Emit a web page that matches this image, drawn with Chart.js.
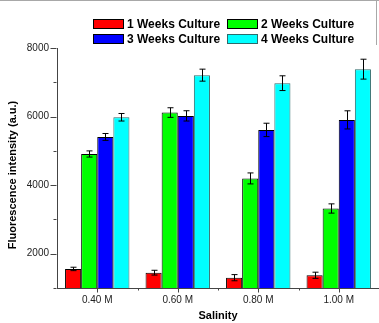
<!DOCTYPE html>
<html>
<head>
<meta charset="utf-8">
<script src="https://cdn.jsdelivr.net/npm/chart.js@4/dist/chart.umd.min.js"></script>
<style>
  html, body { margin: 0; padding: 0; background: #fff; }
  #wrap { width: 379px; height: 323px; position: relative; }
</style>
</head>
<body>
<div id="wrap"><canvas id="c" width="379" height="323"></canvas></div>
<script>
// Salinity levels on the x axis
const categories = ['0.40 M', '0.60 M', '0.80 M', '1.00 M'];

// Mean fluorescence per culture week, with standard deviation
const week1 = [1556, 1447, 1301, 1371];
const week1Err = [50, 70, 90, 90];
const week2 = [4909, 6117, 4196, 3319];
const week2Err = [90, 140, 160, 135];
const week3 = [5406, 6020, 5611, 5903];
const week3Err = [100, 150, 195, 265];
const week4 = [5980, 7208, 6974, 7383];
const week4Err = [110, 175, 215, 290];

const seriesLabels = ['1 Weeks Culture', '2 Weeks Culture', '3 Weeks Culture', '4 Weeks Culture'];
const yMajorTicks = [2000, 4000, 6000, 8000];
const yMinorTicks = [1000, 3000, 5000, 7000];
const yMin = 1000;
const yMax = 8000;

const fills = ['#ff0000', '#00ff00', '#0000ff', '#00ffff'];
const edges = ['#000000', '#000000', '#000000', '#2e6b6b'];
const values = [week1, week2, week3, week4];
const errors = [week1Err, week2Err, week3Err, week4Err];

const FONT = '"Liberation Sans", Arial, sans-serif';
const AXIS = '#444444';

const datasets = values.map((v, i) => ({
  label: seriesLabels[i],
  data: v,
  errors: errors[i],
  backgroundColor: fills[i],
  borderColor: edges[i],
  borderWidth: 1,
  borderSkipped: false,
  categoryPercentage: 0.8,
  barPercentage: 1.0
}));

// Error bars, axis ticks, titles, legend and frame
const decorations = {
  id: 'decorations',
  afterDatasetsDraw(chart) {
    const ctx = chart.ctx;
    const y = chart.scales.y;
    ctx.save();
    ctx.strokeStyle = '#000';
    ctx.lineWidth = 1;
    chart.data.datasets.forEach((ds, di) => {
      const meta = chart.getDatasetMeta(di);
      meta.data.forEach((bar, i) => {
        const v = ds.data[i], e = ds.errors[i];
        const x = Math.round(bar.x) + 0.5;
        const yt = y.getPixelForValue(v + e);
        const yb = y.getPixelForValue(v - e);
        ctx.beginPath();
        ctx.moveTo(x, yt); ctx.lineTo(x, yb);
        ctx.moveTo(x - 3, yt); ctx.lineTo(x + 3, yt);
        ctx.moveTo(x - 3, yb); ctx.lineTo(x + 3, yb);
        ctx.stroke();
      });
    });
    ctx.restore();
  },
  afterDraw(chart) {
    const ctx = chart.ctx;
    const area = chart.chartArea;
    const y = chart.scales.y;
    const x = chart.scales.x;
    ctx.save();
    ctx.strokeStyle = AXIS;
    ctx.lineWidth = 1;

    // y ticks, pointing outward
    const ax = Math.round(area.left) - 0.5;
    yMajorTicks.forEach(t => {
      const py = Math.round(y.getPixelForValue(t)) + 0.5;
      ctx.beginPath(); ctx.moveTo(ax - 6, py); ctx.lineTo(ax, py); ctx.stroke();
    });
    yMinorTicks.forEach(t => {
      const py = Math.round(y.getPixelForValue(t)) + 0.5;
      ctx.beginPath(); ctx.moveTo(ax - 3, py); ctx.lineTo(ax, py); ctx.stroke();
    });

    // x ticks: major at category centres, minor at boundaries
    const by = Math.round(area.bottom) + 0.5;
    for (let i = 0; i < categories.length; i++) {
      const px = Math.round(x.getPixelForTick(i)) + 0.5;
      ctx.beginPath(); ctx.moveTo(px, by); ctx.lineTo(px, by + 4); ctx.stroke();
      if (i < categories.length - 1) {
        const mx = Math.round((x.getPixelForTick(i) + x.getPixelForTick(i + 1)) / 2) + 0.5;
        ctx.beginPath(); ctx.moveTo(mx, by); ctx.lineTo(mx, by + 2); ctx.stroke();
      }
    }

    // axis titles
    ctx.fillStyle = '#000';
    ctx.font = 'bold 11px ' + FONT;
    ctx.textAlign = 'center';
    ctx.textBaseline = 'middle';
    ctx.fillText('Salinity', (area.left + area.right) / 2, 316);
    ctx.save();
    ctx.translate(13, 175);
    ctx.rotate(-Math.PI / 2);
    ctx.fillText('Fluorescence intensity (a.u.)', 0, 0);
    ctx.restore();

    // legend, two rows of two
    const cols = [93, 227];
    const rows = [19, 34];
    ctx.font = 'bold 12px ' + FONT;
    ctx.textAlign = 'left';
    chart.data.datasets.forEach((ds, i) => {
      const lx = cols[i % 2], ly = rows[Math.floor(i / 2)];
      ctx.fillStyle = ds.backgroundColor;
      ctx.fillRect(lx, ly, 31, 10);
      ctx.strokeStyle = ds.borderColor;
      ctx.strokeRect(lx + 0.5, ly + 0.5, 30, 9);
      ctx.fillStyle = '#000';
      ctx.fillText(ds.label, lx + 34, ly + 5.5);
    });

    // outer frame edge
    ctx.strokeStyle = '#a8a8a8';
    ctx.beginPath();
    ctx.moveTo(0, 0.5); ctx.lineTo(379, 0.5);
    ctx.moveTo(376.5, 0); ctx.lineTo(376.5, 45);
    ctx.stroke();
    ctx.restore();
  }
};

new Chart(document.getElementById('c'), {
  type: 'bar',
  data: { labels: categories, datasets },
  options: {
    responsive: false,
    animation: false,
    layout: { padding: { top: 48, left: 0, right: -2, bottom: 0 } },
    plugins: { legend: { display: false }, tooltip: { enabled: false } },
    scales: {
      x: {
        offset: true,
        grid: { display: false, drawTicks: false },
        border: { display: true, color: AXIS, width: 1 },
        ticks: { color: '#222', font: { family: FONT, size: 10 }, padding: 6, maxRotation: 0 },
        afterFit(s) { s.height = 35; }
      },
      y: {
        min: yMin,
        max: yMax,
        grid: { display: false, drawTicks: false },
        border: { display: true, color: AXIS, width: 1 },
        ticks: {
          stepSize: 1000,
          color: '#222',
          font: { family: FONT, size: 10 },
          padding: 8,
          callback: v => (yMajorTicks.includes(v) ? String(v) : '')
        },
        afterFit(s) { s.width = 57; }
      }
    }
  },
  plugins: [decorations]
});
</script>
</body>
</html>
